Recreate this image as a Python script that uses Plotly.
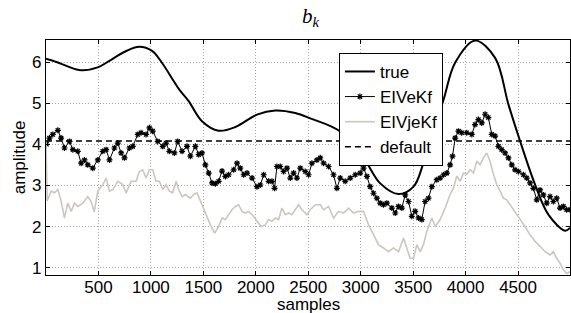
import plotly.graph_objects as go

# ---- data ----
true_x = [0, 100, 200, 335, 493, 600, 750, 890, 1011, 1100, 1271, 1360, 1487, 1646, 1805,
          2011, 2186, 2376, 2519, 2805, 3027, 3186, 3360, 3503, 3598, 3789, 3900, 4090,
          4281, 4408, 4519, 4662, 4789, 4948, 4995]
true_y = [6.08, 6.00, 5.90, 5.80, 5.87, 6.02, 6.25, 6.37, 6.27, 6.00, 5.33, 5.05, 4.56, 4.33, 4.42,
          4.72, 4.82, 4.76, 4.63, 4.31, 3.67, 3.05, 2.79, 2.97, 3.54, 5.08, 5.98, 6.52,
          6.10, 4.97, 4.08, 3.02, 2.29, 1.90, 1.97]

eive_x = [5, 33, 65, 113, 144, 176, 224, 256, 303, 335, 367, 398, 446, 494, 541, 573, 605, 652,
          684, 716, 748, 795, 827, 875, 906, 954, 986, 1017, 1065, 1113, 1144, 1176, 1224, 1255,
          1297, 1344, 1376, 1424, 1456, 1487, 1519, 1551, 1583, 1614, 1646, 1678, 1710, 1741,
          1789, 1821, 1852, 1884, 1916, 1964, 2011, 2043, 2075, 2122, 2154, 2179, 2201, 2233,
          2265, 2297, 2329, 2360, 2392, 2424, 2471, 2503, 2535, 2583, 2614, 2646, 2694, 2741,
          2773, 2805, 2852, 2900, 2948, 2995, 3027, 3059, 3090, 3122, 3154, 3186, 3217, 3249,
          3297, 3329, 3360, 3392, 3424, 3456, 3487, 3519, 3551, 3582, 3614, 3646, 3678, 3725,
          3757, 3790, 3821, 3852, 3875, 3900, 3932, 3963, 4011, 4059, 4090, 4122, 4154, 4186,
          4217, 4249, 4281, 4313, 4344, 4376, 4408, 4440, 4471, 4503, 4551, 4583, 4614, 4646,
          4678, 4710, 4741, 4773, 4805, 4836, 4868, 4900, 4932, 4963, 4995]
eive_y = [4.00, 4.15, 4.24, 4.34, 4.15, 3.91, 4.07, 3.87, 3.83, 3.54, 3.62, 3.50, 3.42, 3.62, 3.83,
          3.87, 3.62, 3.91, 4.03, 3.79, 3.67, 3.91, 3.95, 4.24, 4.28, 4.24, 4.40, 4.32, 4.07, 3.95,
          4.03, 3.83, 3.79, 4.07, 3.83, 3.95, 3.71, 3.95, 3.75, 3.79, 3.50, 3.30, 3.06, 3.04, 3.10,
          3.35, 3.22, 3.26, 3.38, 3.54, 3.42, 3.26, 3.30, 3.18, 2.97, 3.01, 3.26, 3.10, 3.10, 2.93,
          3.46, 3.46, 3.34, 3.42, 3.18, 3.30, 3.18, 3.42, 3.34, 3.26, 3.54, 3.62, 3.67, 3.54, 3.46,
          3.26, 2.93, 3.18, 3.10, 3.18, 3.26, 3.30, 3.42, 3.22, 2.97, 2.81, 2.69, 2.57, 2.53, 2.57,
          2.45, 2.33, 2.49, 2.45, 2.77, 2.61, 2.25, 2.37, 2.21, 2.17, 2.61, 2.69, 2.97, 3.14, 3.18,
          3.26, 3.30, 3.50, 3.71, 4.15, 4.32, 4.28, 4.28, 4.24, 4.48, 4.60, 4.52, 4.73, 4.65, 4.24,
          4.20, 3.95, 3.87, 3.79, 3.67, 3.50, 3.38, 3.34, 3.26, 3.18, 3.06, 2.93, 2.65, 2.89, 2.77,
          2.57, 2.73, 2.61, 2.69, 2.45, 2.49, 2.41, 2.41]

eivje_x = [0, 11, 49, 81, 113, 144, 176, 208, 240, 271, 303, 351, 398, 430, 460, 494, 541, 573,
           605, 637, 684, 732, 763, 811, 859, 890, 922, 954, 986, 1017, 1049, 1081, 1113, 1144,
           1176, 1208, 1240, 1265, 1297, 1329, 1376, 1408, 1440, 1471, 1503, 1535, 1567, 1608,
           1646, 1678, 1710, 1741, 1773, 1805, 1837, 1868, 1900, 1932, 1979, 2011, 2052, 2090,
           2122, 2154, 2186, 2217, 2249, 2281, 2313, 2344, 2376, 2408, 2440, 2487, 2519, 2567,
           2614, 2646, 2694, 2741, 2789, 2837, 2884, 2932, 2979, 3027, 3075, 3122, 3170, 3217,
           3265, 3313, 3360, 3408, 3440, 3471, 3503, 3535, 3567, 3598, 3630, 3678, 3710, 3757,
           3805, 3852, 3884, 3916, 3948, 3979, 4011, 4043, 4075, 4106, 4138, 4170, 4201, 4233,
           4265, 4297, 4329, 4360, 4392, 4424, 4471, 4519, 4567, 4614, 4662, 4710, 4757, 4805,
           4836, 4868, 4900, 4932, 4963, 4995]
eivje_y = [4.10, 2.62, 2.86, 2.82, 2.90, 2.62, 2.21, 2.57, 2.37, 2.57, 2.49, 2.57, 2.73, 2.61, 2.36,
           2.86, 3.02, 3.18, 2.86, 2.90, 3.10, 3.02, 2.82, 3.10, 3.10, 3.34, 3.38, 3.18, 3.38, 3.38,
           3.10, 3.10, 2.90, 3.02, 2.86, 2.82, 3.10, 2.90, 2.73, 2.78, 2.69, 2.78, 2.82, 2.62, 2.45,
           2.25, 2.04, 1.84, 2.00, 2.21, 2.17, 2.29, 2.41, 2.49, 2.53, 2.37, 2.33, 2.37, 2.25, 2.13,
           2.00, 2.04, 2.17, 2.13, 2.21, 2.17, 2.45, 2.29, 2.33, 2.29, 2.41, 2.53, 2.41, 2.29, 2.41,
           2.53, 2.53, 2.41, 2.49, 2.21, 2.37, 2.33, 2.45, 2.33, 2.37, 2.37, 2.04, 1.80, 1.56, 1.48,
           1.39, 1.48, 1.39, 1.72, 1.44, 1.23, 1.23, 1.56, 1.39, 1.56, 1.88, 2.21, 2.00, 2.17, 2.45,
           2.78, 2.94, 3.23, 3.10, 3.30, 3.27, 3.38, 3.30, 3.59, 3.50, 3.67, 3.79, 3.59, 3.27, 3.02,
           2.86, 2.69, 2.65, 2.53, 2.37, 2.17, 2.00, 1.80, 1.64, 1.52, 1.39, 1.31, 1.39, 1.23, 1.11,
           0.95, 0.86, 0.90]

default_x = [0, 4995]
default_y = [4.08, 4.08]

x_ticks = [500, 1000, 1500, 2000, 2500, 3000, 3500, 4000, 4500]
y_ticks = [1, 2, 3, 4, 5, 6]

FONT = "Liberation Sans, Arial, sans-serif"

fig = go.Figure()
fig.add_trace(go.Scatter(x=true_x, y=true_y, name="true", mode="lines",
                         line=dict(color="black", width=2, shape="spline", smoothing=1.0)))
fig.add_trace(go.Scatter(x=eive_x, y=eive_y, name="EIVeKf", mode="lines+markers",
                         line=dict(color="black", width=1),
                         marker=dict(symbol="asterisk-open", size=5, color="black",
                                     line=dict(color="#222222", width=1.2))))
fig.add_trace(go.Scatter(x=eivje_x, y=eivje_y, name="EIVjeKf", mode="lines",
                         line=dict(color="#cbc7bf", width=1.6)))
fig.add_trace(go.Scatter(x=default_x, y=default_y, name="default", mode="lines",
                         line=dict(color="black", width=1.6, dash="6px,4px")))

axis_common = dict(
    showline=True, linecolor="black", linewidth=1.3, mirror="ticks",
    ticks="inside", ticklen=4, tickcolor="black", tickwidth=1,
    showgrid=True, gridcolor="#a8a8a8", gridwidth=1, griddash="1px,2px",
    zeroline=False, automargin=False,
    tickfont=dict(family=FONT, size=17, color="black"),
)

fig.update_layout(
    width=571, height=313,
    margin=dict(l=46, r=1, t=40, b=38),
    paper_bgcolor="white", plot_bgcolor="white",
    showlegend=True,
    title=dict(text="<i>b</i><sub><i>k</i></sub>", x=0.505, xref="paper", xanchor="center",
               y=0.95, yref="container", yanchor="middle",
               font=dict(family="Liberation Serif, Times New Roman, serif", size=21, color="black")),
    legend=dict(x=0.559, y=0.945, xanchor="left", yanchor="top",
                bgcolor="white", bordercolor="black", borderwidth=1,
                font=dict(family=FONT, size=17, color="black"),
                itemwidth=30, tracegroupgap=0),
    xaxis=dict(range=[0, 4995], tickvals=x_ticks, ticktext=[str(v) for v in x_ticks],
               ticklabelstandoff=-4, **axis_common),
    yaxis=dict(range=[0.823, 6.535], tickvals=y_ticks, ticktext=[str(v) for v in y_ticks],
               **axis_common),
    annotations=[
        dict(text="samples", x=0.5, xref="paper", y=-0.125, yref="paper",
             xanchor="center", yanchor="middle", showarrow=False,
             font=dict(family=FONT, size=17, color="black")),
        dict(text="amplitude", x=-0.05, xref="paper", y=0.5, yref="paper",
             xanchor="center", yanchor="middle", showarrow=False, textangle=-90,
             font=dict(family=FONT, size=17, color="black")),
    ],
)

fig.write_html("out.html", config={"displayModeBar": False},
               post_script="document.body.style.margin='0';")
